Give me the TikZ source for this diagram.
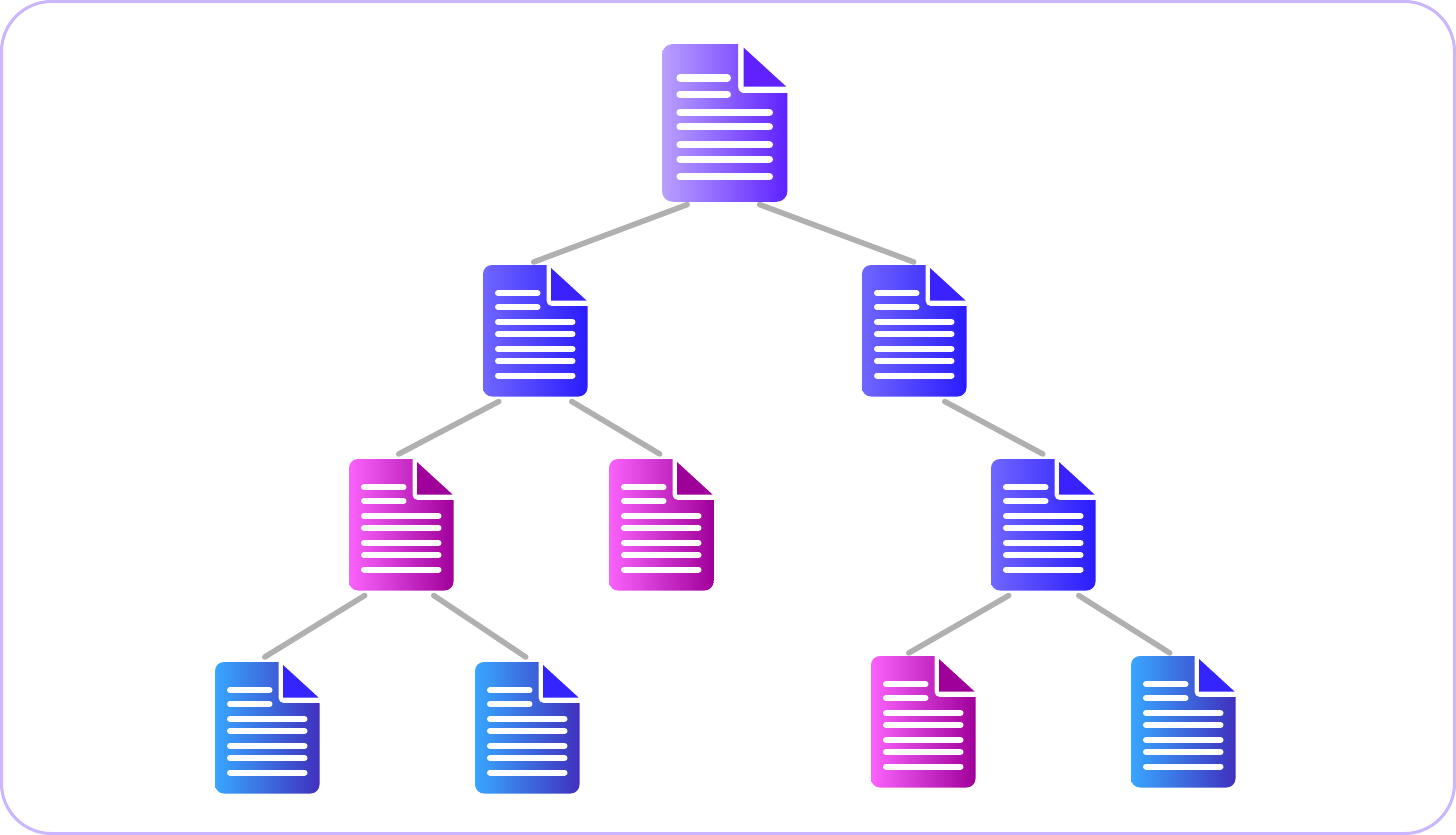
\documentclass[tikz,border=0pt]{standalone}
\definecolor{frameC}{HTML}{C9B6FF}
\definecolor{linkC}{HTML}{B0B0B0}
\definecolor{violetL}{HTML}{B9A0FF}\definecolor{violetR}{HTML}{5F22FF}\definecolor{violetF}{HTML}{5F22FF}
\definecolor{indigoL}{HTML}{7066FF}\definecolor{indigoR}{HTML}{2A1CFF}\definecolor{indigoF}{HTML}{3A22FF}
\definecolor{pinkL}{HTML}{FA62FC}\definecolor{pinkR}{HTML}{A0009A}\definecolor{pinkF}{HTML}{A0009A}
\definecolor{skyL}{HTML}{38A6FF}\definecolor{skyR}{HTML}{4030BE}\definecolor{skyF}{HTML}{3424FF}
\tikzset{
  frame/.style={draw=frameC,line width=3pt,rounded corners=50pt},
  link/.style={draw=linkC,line width=5.5pt,line cap=round},
  docbox/.style={rectangle,inner sep=0pt,outer sep=0pt},
  textline/.style={draw=white,line cap=round},
}
% name, left, top, scale, palette
\newcommand{\docicon}[5]{%
  \pgfmathsetmacro{\dw}{104.5*#4}\pgfmathsetmacro{\dh}{131.5*#4}
  \pgfmathsetmacro{\cx}{#2+\dw/2}\pgfmathsetmacro{\cy}{#3+\dh/2}
  \pgfmathsetmacro{\rbig}{9*#4}\pgfmathsetmacro{\rsmall}{5*#4}\pgfmathsetmacro{\lw}{6*#4}
  \node[docbox,minimum width=\dw pt,minimum height=\dh pt] (#1) at (\cx,\cy) {};
  \begin{scope}[shift={(#2,#3)},xscale=#4,yscale=#4]
    \path[left color=#5L,right color=#5R]
      [rounded corners=\rbig pt] (63.5,0) -- (0,0) -- (0,131.5) -- (104.5,131.5)
      [sharp corners] -- (104.5,41) [rounded corners=\rsmall pt] -- (63.5,41) [sharp corners] -- cycle;
    \fill[#5F] (68,3) -- (103.5,35.5) -- (68,35.5) -- cycle;
    \foreach \yy/\xx in {28.3/54.5,42/54.5,57/89.5,69/89.5,84/89.5,96/89.5,110.5/89.5}
      \draw[textline,line width=\lw pt] (15,\yy) -- (\xx,\yy);
  \end{scope}}
\begin{document}
\begin{tikzpicture}[x=1pt,y=-1pt]
\useasboundingbox (0,0) rectangle (1456,835);
\fill[white] (0,0) rectangle (1456,835);
\draw[frame] (1.5,1.5) rectangle (1454.5,833.5);
\docicon{a}{662}{44}{1.2}{violet}
\docicon{b}{483}{265}{1}{indigo}
\docicon{c}{862}{265}{1}{indigo}
\docicon{d}{349}{459}{1}{pink}
\docicon{e}{609}{459}{1}{pink}
\docicon{f}{991}{459}{1}{indigo}
\docicon{g}{215}{662}{1}{sky}
\docicon{h}{475}{662}{1}{sky}
\docicon{i}{871}{656}{1}{pink}
\docicon{j}{1131}{656}{1}{sky}
\draw[link] ([shift={(-37.5pt,-2.8pt)}]a.south) -- ([shift={(-1.5pt,3pt)}]b.north);
\draw[link] ([shift={(35pt,-2.8pt)}]a.south) -- ([shift={(-0.5pt,3pt)}]c.north);
\draw[link] ([shift={(-36.5pt,-5pt)}]b.south) -- ([shift={(-2.5pt,5pt)}]d.north);
\draw[link] ([shift={(36.5pt,-5pt)}]b.south) -- ([shift={(-1.5pt,5pt)}]e.north);
\draw[link] ([shift={(30.5pt,-5pt)}]c.south) -- ([shift={(-0.5pt,5pt)}]f.north);
\draw[link] ([shift={(-36.5pt,-5pt)}]d.south) -- ([shift={(-2.5pt,5pt)}]g.north);
\draw[link] ([shift={(32.5pt,-5pt)}]d.south) -- ([shift={(-1.5pt,5pt)}]h.north);
\draw[link] ([shift={(-34.5pt,-5pt)}]f.south) -- ([shift={(-14.5pt,3pt)}]i.north);
\draw[link] ([shift={(35.5pt,-5pt)}]f.south) -- ([shift={(-13.5pt,3pt)}]j.north);
\end{tikzpicture}
\end{document}
